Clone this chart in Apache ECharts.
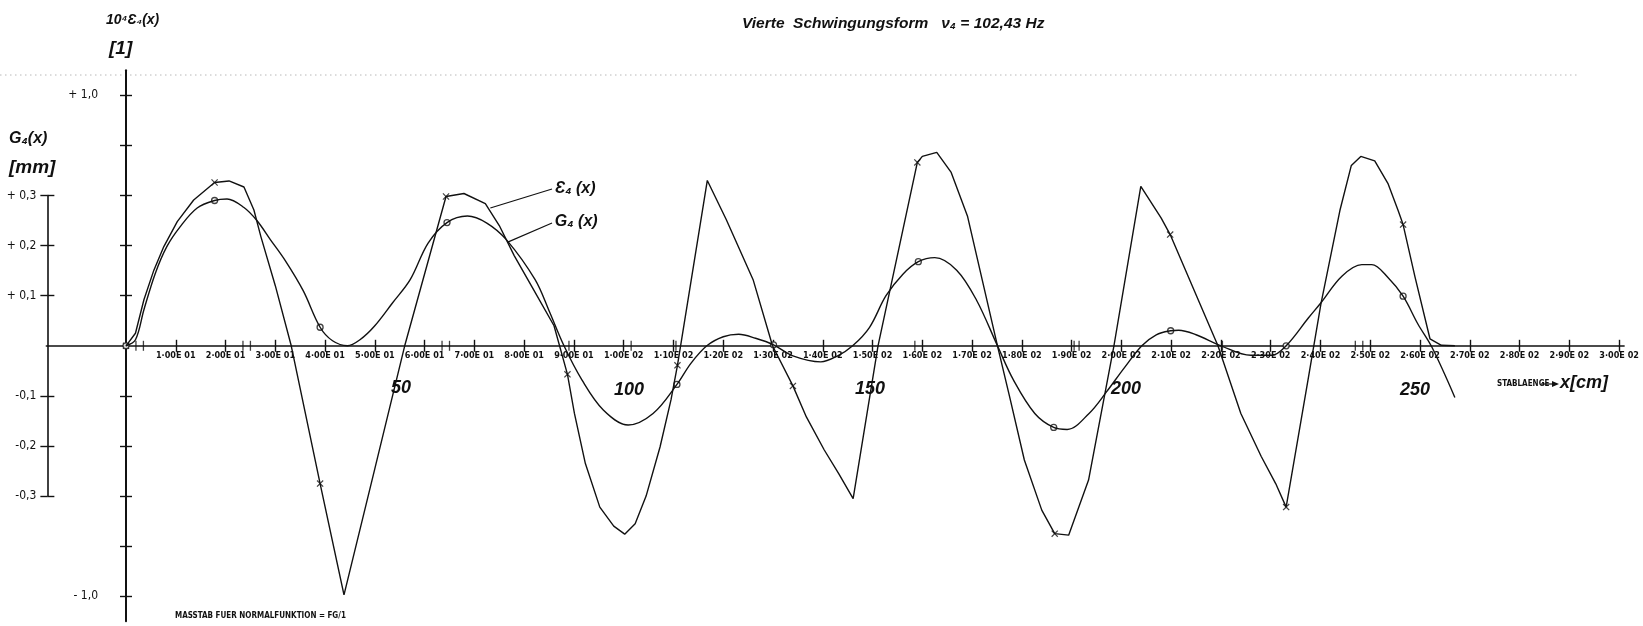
<!DOCTYPE html>
<html>
<head>
<meta charset="utf-8">
<script src="https://cdn.jsdelivr.net/npm/echarts@6/dist/echarts.min.js"></script>
<style>
  html, body { margin: 0; padding: 0; background: #ffffff; }
  #chart { width: 1643px; height: 626px; }
</style>
</head>
<body>
<div id="chart"></div>
<script>
// Stablänge x in cm, Dehnung 10^4·ε4(x) [1], Auslenkung G4(x) in mm
const epsilonPoints = [
  [0, 0], [1.9, 0.05], [3.6, 0.184], [5.6, 0.302], [7.6, 0.396], [10.3, 0.496],
  [13.6, 0.582], [17.8, 0.652], [20.7, 0.658], [23.7, 0.634], [25.7, 0.542],
  [27.1, 0.436], [30, 0.24], [33.2, 0], [39, -0.55], [43.8, -0.994],
  [50, -0.49], [56, 0], [64.3, 0.596], [67.9, 0.608], [72.2, 0.568], [75, 0.48],
  [78, 0.36], [82, 0.22], [86, 0.08], [88.7, -0.114], [90.1, -0.27],
  [92.3, -0.47], [95.2, -0.644], [98, -0.72], [100.2, -0.752], [102.3, -0.71],
  [104.5, -0.6], [107.3, -0.404], [109.5, -0.216], [110.8, -0.078],
  [116.8, 0.66], [120.6, 0.504], [126, 0.264], [129.9, 0], [134, -0.16],
  [136.7, -0.284], [140.3, -0.416], [143.2, -0.51], [146.1, -0.61],
  [151.1, 0], [159, 0.732], [160, 0.756], [162.9, 0.772], [165.8, 0.692],
  [169.1, 0.516], [175.1, 0], [177.5, -0.2], [180.5, -0.456], [184, -0.656],
  [186.6, -0.75], [189.4, -0.756], [193.4, -0.536], [198.5, 0], [203.9, 0.636],
  [208, 0.51], [209.8, 0.444], [219.4, 0], [224, -0.27], [228.1, -0.442],
  [231, -0.55], [233.1, -0.644], [237.6, -0.124], [240.1, 0.168], [243.9, 0.54],
  [246.2, 0.72], [248.1, 0.756], [250.9, 0.738], [253.6, 0.646], [255.6, 0.54],
  [256.6, 0.484], [259, 0.274], [262, 0.028], [264.3, 0.002], [267, 0]
];

const deflectionPoints = [
  [0, 0], [1.9, 0.012], [3.6, 0.072], [5.9, 0.145], [8.2, 0.198], [10.9, 0.238],
  [14.3, 0.275], [17.8, 0.29], [20.3, 0.293], [23.7, 0.276], [26.3, 0.25],
  [29, 0.212], [32, 0.17], [35.6, 0.11], [39, 0.037], [41.5, 0.01], [44.5, 0],
  [47, 0.012], [49.9, 0.039], [53.5, 0.085], [57.1, 0.132], [60.7, 0.205],
  [64.5, 0.246], [68.6, 0.259], [72.5, 0.245], [76.5, 0.211], [82.2, 0.132],
  [85, 0.07], [88, 0], [91.6, -0.068], [95.9, -0.128], [100.9, -0.158],
  [105.9, -0.135], [110.7, -0.077], [113.5, -0.035], [116.7, 0], [120, 0.018],
  [123.1, 0.023], [126.5, 0.015], [130.1, 0.002], [134, -0.02], [139.6, -0.032],
  [143, -0.02], [146, 0], [149.4, 0.037], [152.7, 0.1], [156.1, 0.143],
  [159.2, 0.168], [162.5, 0.176], [166.9, 0.151], [170.9, 0.091], [175.1, 0],
  [178.3, -0.068], [182.6, -0.135], [186.4, -0.163], [189.1, -0.167],
  [193.5, -0.135], [197, -0.092], [200.5, -0.045], [204.1, 0], [207, 0.022],
  [209.9, 0.03], [211.5, 0.031], [215, 0.022], [220, 0], [226, -0.019],
  [230.2, -0.019], [233.1, 0], [237.6, 0.056], [240.1, 0.086], [244.3, 0.139],
  [248.3, 0.162], [250.3, 0.162], [253.6, 0.136], [256.6, 0.099],
  [259.6, 0.043], [262.4, -0.003], [267, -0.103]
];

// Stützstellen, an denen die Kurven markiert sind (x in cm)
const epsilonNodes = [0, 17.8, 39, 64.3, 88.7, 110.8, 134, 159, 186.6, 209.8, 233.1, 256.6];
const deflectionNodes = [0, 17.8, 39, 64.5, 110.7, 130.1, 159.2, 186.4, 209.9, 233.1, 256.6];

// kurze Striche auf der Stabachse
const stationMarks = [2, 3.5, 23.5, 25, 63.5, 65, 89, 101.5, 110.5, 158.5, 190.5, 191.5, 220.3, 247, 248.5];

const xTickValues = [10, 20, 30, 40, 50, 60, 70, 80, 90, 100, 110, 120, 130, 140, 150,
  160, 170, 180, 190, 200, 210, 220, 230, 240, 250, 260, 270, 280, 290, 300];
const epsilonTickValues = [-1, -0.8, -0.6, -0.4, -0.2, 0.2, 0.4, 0.6, 0.8, 1];
const epsilonLabelValues = [-1, 1];
const deflectionTickValues = [-0.3, -0.2, -0.1, 0.1, 0.2, 0.3];
const deflectionLabelValues = [-0.3, -0.2, -0.1, 0.1, 0.2, 0.3];

// Beschriftung der Kurven: Anfang der Hinweislinie auf der Kurve, Ende am Text
const epsilonLeader = [[73.2, 0.55], [85.6, 0.626]];
const deflectionLeader = [[76.7, 0.207], [85.6, 0.245]];

// ---------------------------------------------------------------- layout
const X_ZERO = 126, PX_PER_CM = 4.977, X_MIN = -16, X_MAX = 301;
const Y_ZERO = 345.8, PX_PER_TICK = 50.1;
const gridLeft = X_ZERO + X_MIN * PX_PER_CM;
const gridWidth = (X_MAX - X_MIN) * PX_PER_CM;
const gridTop = Y_ZERO - 5.5 * PX_PER_TICK;
const gridHeight = 11 * PX_PER_TICK;
const G_AXIS_LEFT = X_ZERO - 15.8 * PX_PER_CM;

const INK = '#111';
const plotterFont = '"DejaVu Sans Condensed", "Liberation Sans Narrow", "DejaVu Sans", sans-serif';
const handFont = '"Liberation Sans", "DejaVu Sans", sans-serif';

function expLabel(v) {
  const e = v >= 100 ? 2 : 1;
  const m = (v / Math.pow(10, e)).toFixed(2).replace('.', '·');
  return m + 'E 0' + e;
}
function commaLabel(v) {
  const s = Math.abs(v).toFixed(1).replace('.', ',');
  return (v > 0 ? '+ ' : '-') + s;
}
function bigCommaLabel(v) {
  const s = Math.abs(v).toFixed(1).replace('.', ',');
  return (v > 0 ? '+ ' : '- ') + s;
}
function near(a, b) { return Math.abs(a - b) < 1e-6; }

const xMarkSymbol = 'path://M0,1.2L1.2,0L5,3.8L8.8,0L10,1.2L6.2,5L10,8.8L8.8,10L5,6.2L1.2,10L0,8.8L3.8,5Z';
const tickStyle = { color: INK, width: 1.4 };
const noBounds = { outerBoundsMode: 'none', containLabel: false };

const chart = echarts.init(document.getElementById('chart'), null, { renderer: 'canvas' });

const option = {
  backgroundColor: '#ffffff',
  animation: false,
  grid: [
    // 0: Kurven
    Object.assign({ left: gridLeft, top: gridTop, width: gridWidth, height: gridHeight }, noBounds),
    // 1: Achse G4(x)
    Object.assign({ left: G_AXIS_LEFT, top: Y_ZERO - 3 * PX_PER_TICK, width: 2, height: 6 * PX_PER_TICK }, noBounds),
    // 2: Stabachse x
    Object.assign({ left: gridLeft, top: Y_ZERO - 8, width: gridWidth, height: 8 }, noBounds),
    // 3: Achse 10^4 ε4(x)
    Object.assign({ left: X_ZERO, top: gridTop, width: 8, height: gridHeight }, noBounds)
  ],
  xAxis: [
    { gridIndex: 0, type: 'value', min: X_MIN, max: X_MAX, show: false },
    { gridIndex: 1, type: 'value', min: 0, max: 1, show: false },
    {
      gridIndex: 2, type: 'value', min: X_MIN, max: X_MAX, position: 'bottom',
      axisLine: { show: true, onZero: false, lineStyle: { color: INK, width: 1.6 } },
      axisTick: { show: true, customValues: xTickValues, length: 6, lineStyle: tickStyle },
      axisLabel: {
        show: true, customValues: xTickValues, formatter: expLabel, margin: 5,
        color: INK, fontFamily: plotterFont, fontSize: 9, fontWeight: 'bold'
      },
      splitLine: { show: false }
    },
    {
      gridIndex: 2, type: 'value', min: X_MIN, max: X_MAX, position: 'bottom',
      axisLine: { show: false, onZero: false },
      axisTick: { show: true, inside: true, customValues: xTickValues, length: 6, lineStyle: tickStyle },
      axisLabel: { show: false },
      splitLine: { show: false }
    },
    { gridIndex: 3, type: 'value', min: 0, max: 1, show: false }
  ],
  yAxis: [
    { gridIndex: 0, type: 'value', min: -1.1, max: 1.1, show: false },
    { gridIndex: 0, type: 'value', min: -0.55, max: 0.55, show: false },
    {
      gridIndex: 1, type: 'value', min: -0.3, max: 0.3, position: 'left',
      axisLine: { show: true, onZero: false, lineStyle: { color: INK, width: 1.6 } },
      axisTick: { show: true, customValues: deflectionTickValues, length: 7, lineStyle: tickStyle },
      axisLabel: {
        show: true, customValues: deflectionLabelValues, formatter: commaLabel, margin: 11,
        color: INK, fontFamily: plotterFont, fontSize: 12
      },
      splitLine: { show: false }
    },
    {
      gridIndex: 1, type: 'value', min: -0.3, max: 0.3, position: 'left',
      axisLine: { show: false, onZero: false },
      axisTick: { show: true, inside: true, customValues: deflectionTickValues, length: 7, lineStyle: tickStyle },
      axisLabel: { show: false },
      splitLine: { show: false }
    },
    { gridIndex: 2, type: 'value', min: 0, max: 1, show: false },
    {
      gridIndex: 3, type: 'value', min: -1.1, max: 1.1, position: 'left',
      axisLine: { show: true, onZero: false, lineStyle: { color: INK, width: 2 } },
      axisTick: { show: true, customValues: epsilonTickValues, length: 6, lineStyle: tickStyle },
      axisLabel: {
        show: true, customValues: epsilonLabelValues, formatter: bigCommaLabel, margin: 28,
        color: INK, fontFamily: plotterFont, fontSize: 12
      },
      splitLine: { show: false }
    },
    {
      gridIndex: 3, type: 'value', min: -1.1, max: 1.1, position: 'left',
      axisLine: { show: false, onZero: false },
      axisTick: { show: true, inside: true, customValues: epsilonTickValues, length: 6, lineStyle: tickStyle },
      axisLabel: { show: false },
      splitLine: { show: false }
    }
  ],
  series: [
    {
      name: 'epsilon', type: 'line', xAxisIndex: 0, yAxisIndex: 0,
      data: epsilonPoints, smooth: false, symbol: 'none',
      lineStyle: { color: INK, width: 1.4 },
      markLine: {
        silent: true, symbol: ['none', 'none'],
        lineStyle: { color: INK, width: 1.2, type: 'solid' },
        label: {
          show: true, position: 'end', distance: 3, formatter: 'Ɛ₄ (x)',
          color: INK, fontFamily: handFont, fontStyle: 'italic', fontWeight: 'bold', fontSize: 16
        },
        data: [[{ coord: epsilonLeader[0] }, { coord: epsilonLeader[1] }]]
      }
    },
    {
      name: 'deflection', type: 'line', xAxisIndex: 0, yAxisIndex: 1,
      data: deflectionPoints, smooth: 0.35, symbol: 'none',
      lineStyle: { color: INK, width: 1.4 },
      markLine: {
        silent: true, symbol: ['none', 'none'],
        lineStyle: { color: INK, width: 1.2, type: 'solid' },
        label: {
          show: true, position: 'end', distance: 3, formatter: 'G₄ (x)',
          color: INK, fontFamily: handFont, fontStyle: 'italic', fontWeight: 'bold', fontSize: 16
        },
        data: [[{ coord: deflectionLeader[0] }, { coord: deflectionLeader[1] }]]
      }
    },
    {
      name: 'epsilonNodes', type: 'scatter', xAxisIndex: 0, yAxisIndex: 0,
      data: epsilonPoints.filter(p => epsilonNodes.some(n => near(n, p[0]))),
      symbol: xMarkSymbol, symbolSize: 7,
      itemStyle: { color: INK }
    },
    {
      name: 'deflectionNodes', type: 'scatter', xAxisIndex: 0, yAxisIndex: 1,
      data: deflectionPoints.filter(p => deflectionNodes.some(n => near(n, p[0]))),
      symbol: 'circle', symbolSize: 6,
      itemStyle: { color: '#ffffff', borderColor: INK, borderWidth: 1.3 }
    },
    {
      name: 'stations', type: 'scatter', xAxisIndex: 0, yAxisIndex: 0,
      data: stationMarks.map(x => [x, 0]),
      symbol: 'rect', symbolSize: [1.3, 10],
      itemStyle: { color: INK }
    }
  ],
  graphic: [
    // dünne gepunktete Linie am oberen Rand
    { type: 'line', shape: { x1: 0, y1: 75, x2: 1580, y2: 75 }, style: { stroke: '#b8b8b8', lineWidth: 1, lineDash: [1.5, 3.5] }, silent: true },
    { type: 'text', left: 106, top: 13, style: { text: '10⁴Ɛ₄(x)', font: 'italic bold 14px ' + handFont, fill: INK } },
    { type: 'text', left: 109, top: 39, style: { text: '[1]', font: 'italic bold 19px ' + handFont, fill: INK } },
    { type: 'text', left: 9, top: 131, style: { text: 'G₄(x)', font: 'italic bold 16px ' + handFont, fill: INK } },
    { type: 'text', left: 9, top: 158, style: { text: '[mm]', font: 'italic bold 19px ' + handFont, fill: INK } },
    { type: 'text', left: 742, top: 16, style: { text: 'Vierte  Schwingungsform   ν₄ = 102,43 Hz', font: 'italic bold 15.5px ' + handFont, fill: INK } },
    { type: 'text', x: 401, y: 388, style: { text: '50', font: 'italic bold 18px ' + handFont, fill: INK, align: 'center', verticalAlign: 'middle' } },
    { type: 'text', x: 629, y: 390, style: { text: '100', font: 'italic bold 18px ' + handFont, fill: INK, align: 'center', verticalAlign: 'middle' } },
    { type: 'text', x: 870, y: 389, style: { text: '150', font: 'italic bold 18px ' + handFont, fill: INK, align: 'center', verticalAlign: 'middle' } },
    { type: 'text', x: 1126, y: 389, style: { text: '200', font: 'italic bold 18px ' + handFont, fill: INK, align: 'center', verticalAlign: 'middle' } },
    { type: 'text', x: 1415, y: 390, style: { text: '250', font: 'italic bold 18px ' + handFont, fill: INK, align: 'center', verticalAlign: 'middle' } },
    { type: 'text', left: 1497, top: 380, style: { text: 'STABLAENGE', font: 'bold 8px ' + plotterFont, fill: INK } },
    { type: 'line', shape: { x1: 1541, y1: 384, x2: 1553, y2: 384 }, style: { stroke: INK, lineWidth: 1.2 } },
    { type: 'polygon', shape: { points: [[1552, 381], [1559, 384], [1552, 387]] }, style: { fill: INK } },
    { type: 'text', left: 1560, top: 374, style: { text: 'x[cm]', font: 'italic bold 18px ' + handFont, fill: INK } },
    { type: 'text', left: 175, top: 612, style: { text: 'MASSTAB FUER NORMALFUNKTION = FG/1', font: 'bold 8px ' + plotterFont, fill: INK } }
  ]
};

chart.setOption(option);
</script>
</body>
</html>
